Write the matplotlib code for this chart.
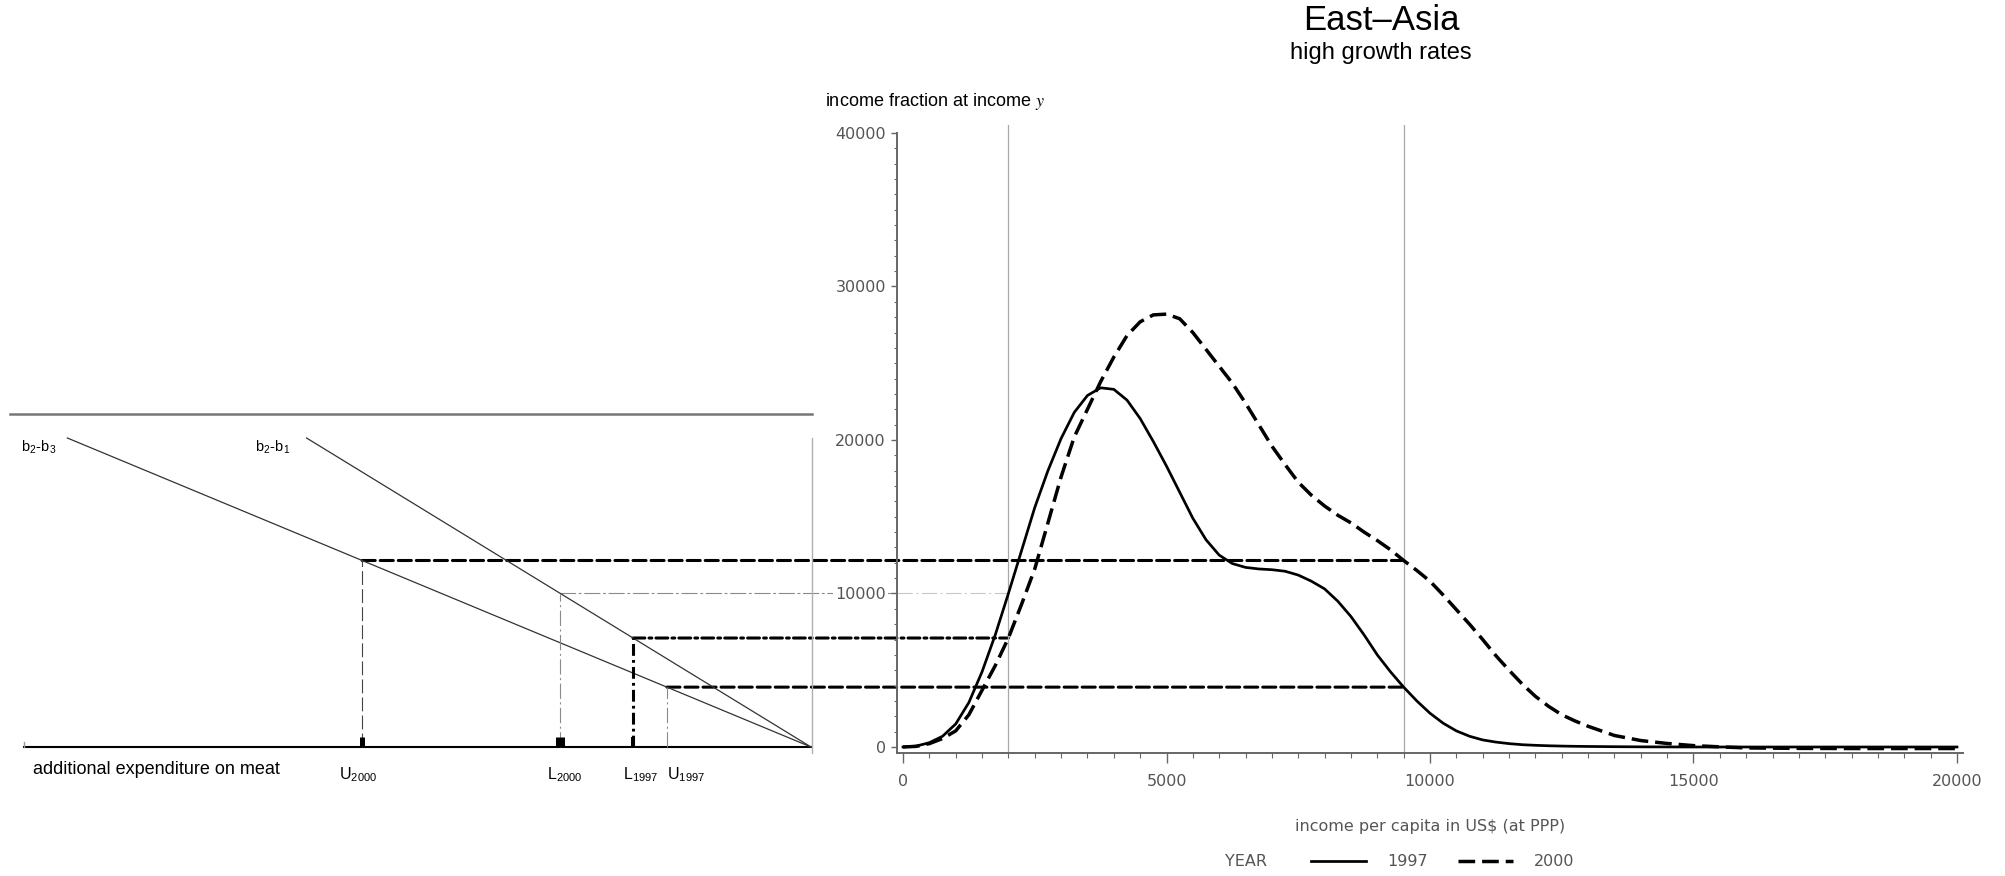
import numpy as np
import matplotlib
matplotlib.use('Agg')
import matplotlib.pyplot as plt
from matplotlib.patches import ConnectionPatch
from matplotlib.ticker import MultipleLocator

plt.rcParams['font.family'] = ['Liberation Sans', 'DejaVu Sans']
plt.rcParams['mathtext.fontset'] = 'stix'
plt.rcParams['lines.scale_dashes'] = False

# income distribution, East-Asia
income = [0, 250, 500, 750, 1000, 1250, 1500, 1750, 2000, 2250, 2500, 2750, 3000,
          3250, 3500, 3750, 4000, 4250, 4500, 4750, 5000, 5250, 5500, 5750, 6000,
          6250, 6500, 6750, 7000, 7250, 7500, 7750, 8000, 8250, 8500, 8750, 9000,
          9250, 9500, 9750, 10000, 10250, 10500, 10750, 11000, 11250, 11500, 11750,
          12000, 12250, 12500, 12750, 13000, 13500, 14000, 14500, 15000, 15500,
          16000, 17000, 18000, 19000, 20000]
share_1997 = [0, 60, 280, 700, 1500, 2900, 4900, 7300, 10000, 12800, 15600, 18000, 20100,
              21800, 22900, 23400, 23300, 22600, 21400, 19900, 18300, 16600, 14900, 13500, 12500,
              11950, 11700, 11600, 11550, 11450, 11200, 10800, 10300, 9500, 8500, 7300, 6000,
              4900, 3900, 3000, 2200, 1550, 1050, 700, 460, 320, 220, 150,
              110, 80, 60, 45, 35, 20, 10, 5, 0, 0,
              0, 0, 0, 0, 0]
share_2000 = [0, 40, 220, 550, 1050, 2100, 3700, 5300, 7100, 9300, 11600, 14600, 17600,
              20200, 22000, 23800, 25400, 26800, 27700, 28150, 28200, 27900, 27000, 25900, 24800,
              23700, 22400, 21000, 19600, 18400, 17250, 16400, 15700, 15100, 14600, 14000, 13450,
              12850, 12150, 11500, 10800, 9900, 8950, 8000, 7000, 5950, 5000, 4100,
              3300, 2650, 2100, 1700, 1350, 750, 420, 230, 90, 10,
              -60, -90, -100, -100, -100]
curves = {'1997': share_1997, '2000': share_2000}

lower_income = 2000
upper_income = 9500

# schematic on the left: two lines through the origin
slope_b2_b3 = 213
slope_b2_b1 = 314
line_top = 20130
axis_len = 100

# points on the expenditure axis
point_letter = ['U', 'L', 'L', 'U']
point_year = ['2000', '2000', '1997', '1997']
level_curve = ['2000', '1997', '2000', '1997']
level_income = [upper_income, lower_income, lower_income, upper_income]
level_line = ['b2-b3', 'b2-b1', 'b2-b1', 'b2-b3']
slopes = {'b2-b3': slope_b2_b3, 'b2-b1': slope_b2_b1}

# styles
thick_dash = (0, (9.4, 3.6))
thick_dashdot = (0, (8.5, 3, 2, 3))
thin_dashdot = (0, (11, 2.5, 1.5, 2.5))
h_style = [dict(color='black', lw=2.2, ls=thick_dash),
           dict(color='#8a8a8a', lw=0.8, ls=thin_dashdot),
           dict(color='black', lw=2.2, ls=thick_dashdot),
           dict(color='black', lw=2.2, ls=thick_dash)]
v_style = [dict(color='#444444', lw=0.8, ls=(0, (10, 3))),
           dict(color='#8a8a8a', lw=0.8, ls=thin_dashdot),
           dict(color='black', lw=2.2, ls=thick_dashdot),
           dict(color='#8a8a8a', lw=0.8, ls=thin_dashdot)]
h_fade = [False, True, False, False]
mark_w = [3.6, 6.5, 2.9, 0]
label_dx = [-4, 4, 8, 19]

sas_font = dict(family='DejaVu Sans', size=11.5)
sas_color = '#555555'

W, H = 2006, 876
fig = plt.figure(figsize=(W / 100, H / 100), dpi=100)


def box(l, t, r, b):
    return [l / W, 1 - b / H, (r - l) / W, (b - t) / H]


def fx(px):
    return px / W


def fy(py):
    return 1 - py / H


axL = fig.add_axes(box(10, 414, 812, 753))
axR = fig.add_axes(box(897, 125, 1963, 753))
axR.patch.set_visible(False)
axL.patch.set_visible(False)

# ---- right panel: densities
l97, = axR.plot(income, share_1997, color='black', lw=1.95, label='1997')
l00, = axR.plot(income, share_2000, color='black', lw=2.5, dashes=(12, 5), label='2000')
axR.axvline(lower_income, color='#a8a8a8', lw=0.9, zorder=1)
axR.axvline(upper_income, color='#a8a8a8', lw=0.9, zorder=1)
axR.set_xlim(-114, 20114)
axR.set_ylim(-391, 40521)
for s in ['top', 'right']:
    axR.spines[s].set_visible(False)
for s in ['left', 'bottom']:
    axR.spines[s].set_color('#666666')
    axR.spines[s].set_linewidth(1.4)
axR.spines['left'].set_bounds(-391, 40000)
axR.set_xticks(range(0, 20001, 5000))
axR.set_yticks(range(0, 40001, 10000))
axR.xaxis.set_minor_locator(MultipleLocator(500))
axR.yaxis.set_minor_locator(MultipleLocator(1000))
axR.tick_params(axis='x', which='major', direction='out', length=7, width=1,
                color='#666666', pad=8, labelcolor=sas_color)
axR.tick_params(axis='x', which='minor', direction='out', length=3.6, width=0.8, color='#666666')
axR.tick_params(axis='y', which='major', direction='out', length=4, width=1,
                color='#666666', pad=4, labelcolor=sas_color)
axR.tick_params(axis='y', which='minor', direction='out', length=2.2, width=0.8, color='#666666')
for lbl in axR.get_xticklabels() + axR.get_yticklabels():
    lbl.set_fontfamily(sas_font['family'])
    lbl.set_fontsize(sas_font['size'])
for lbl in axR.get_yticklabels():
    lbl.set_bbox(dict(facecolor='white', edgecolor='none', pad=1.5))
axR.set_xlabel('income per capita in US$ (at PPP)', fontdict=sas_font, color=sas_color,
               labelpad=22)

# ---- left panel: schematic
axL.set_xlim(101.8, -0.13)
axL.set_ylim(-391, 21694)
axL.set_xticks([])
axL.set_yticks([])
for s in ['left', 'bottom']:
    axL.spines[s].set_visible(False)
axL.spines['top'].set_color('#777777')
axL.spines['top'].set_linewidth(1.8)
axL.spines['right'].set_color('#b0b0b0')
axL.spines['right'].set_linewidth(1)
axL.spines['right'].set_bounds(-391, line_top)

axL.plot([axis_len, 0], [0, 0], color='black', lw=1.5)
axL.plot([axis_len, axis_len], [0, 320], color='#999999', lw=1)

label_dy = {'b2-b3': -11, 'b2-b1': -16}
for name, txt in [('b2-b3', r'b$_\mathregular{2}$-b$_\mathregular{3}$'),
                  ('b2-b1', r'b$_\mathregular{2}$-b$_\mathregular{1}$')]:
    e_top = line_top / slopes[name]
    axL.plot([e_top, 0], [line_top, 0], color='#333333', lw=0.9)
    axL.annotate(txt, (e_top, line_top), xytext=(label_dy[name], -9),
                 textcoords='offset pixels', ha='right', va='center', fontsize=10.5)

for i in range(len(point_letter)):
    level = np.interp(level_income[i], income, curves[level_curve[i]])
    e = level / slopes[level_line[i]]
    vs = v_style[i]
    axL.plot([e, e], [0, level], color=vs['color'], lw=vs['lw'], linestyle=vs['ls'])
    if mark_w[i] > 0:
        axL.plot([e, e], [0, 650], color='black', lw=mark_w[i], solid_capstyle='butt')
    axL.annotate(point_letter[i] + r'$_\mathregular{' + point_year[i] + '}$', (e, 0),
                 xytext=(label_dx[i], -28), textcoords='offset pixels',
                 ha='center', va='center', fontsize=11.5)
    hs = h_style[i]
    if h_fade[i]:
        xend = axR.get_xlim()[0]
        axR.plot([xend, level_income[i]], [level, level], color='#c8c8c8',
                 lw=hs['lw'], linestyle=hs['ls'], zorder=1)
    else:
        xend = level_income[i]
    con = ConnectionPatch(xyA=(e, level), coordsA=axL.transData,
                          xyB=(xend, level), coordsB=axR.transData,
                          color=hs['color'], lw=hs['lw'], linestyle=hs['ls'])
    axL.add_artist(con)
    con.set_clip_on(False)

# ---- texts
fig.text(fx(1381), fy(20), 'East\u2013Asia', ha='center', va='center', fontsize=25)
fig.text(fx(1381), fy(53), 'high growth rates', ha='center', va='center', fontsize=17)
fig.text(fx(825), fy(102), 'income fraction at income $y$', ha='left', va='center', fontsize=13)
fig.text(fx(33), fy(770), 'additional expenditure on meat', ha='left', va='center', fontsize=13)

fig.text(fx(1246), fy(862), 'YEAR', ha='center', va='center', color=sas_color, **sas_font)
fig.legend(handles=[l97, l00], labels=['1997', '2000'], loc='center left',
           bbox_to_anchor=(fx(1311), fy(862)), ncol=2, frameon=False,
           prop=dict(family=sas_font['family'], size=sas_font['size']),
           handlelength=3.45, handletextpad=1.3, columnspacing=1.9, borderpad=0,
           borderaxespad=0, labelcolor=sas_color)

fig.savefig('out.png', dpi=100)
